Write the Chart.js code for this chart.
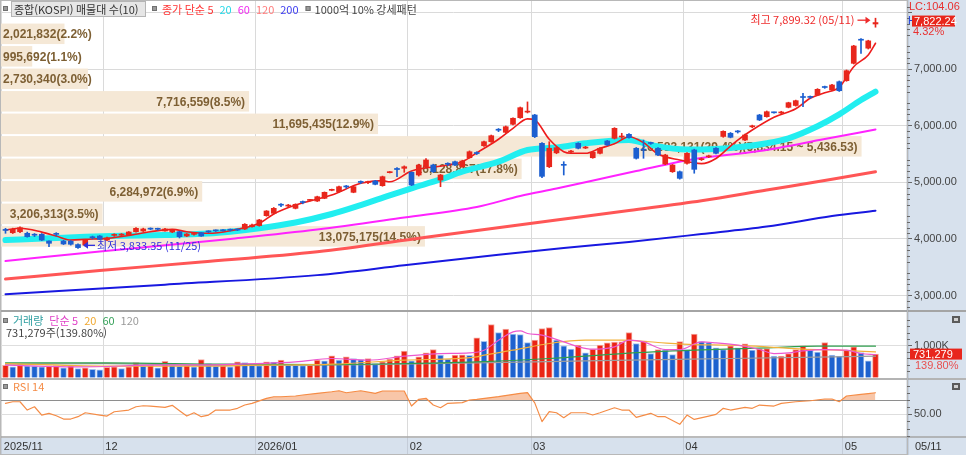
<!DOCTYPE html>
<html lang="ko">
<head>
    <meta charset="UTF-8">
    <title>종합(KOSPI) 일봉</title>
    <script src="https://cdn.jsdelivr.net/npm/chart.js"></script>
    <style>
        html, body { margin: 0; padding: 0; background: #fff; }
        .wrap { width: 966px; height: 455px; }
    </style>
</head>
<body>
<div class="wrap"><canvas id="kospi" width="966" height="455"></canvas></div>
<script>
    // 2025/11/11 ~ 2026/05/11 trading days
    const monthLabels = ['2025/11', '12', '2026/01', '02', '03', '04', '05'];
    const monthStart = [0, 14, 35, 56, 73, 94, 116];
    const lastDateLabel = '05/11';

    const opens = [4160,4109,4127,4099,4075,4081,3963,4090,3963,3960,3900,3892,4030,4051,
        3980,4062,4065,4069,4127,4139,4180,4178,4140,4122,4127,4051,4080,4109,4130,4148,4150,4160,4162,4175,4215,
        4235,4410,4452,4605,4580,4540,4650,4680,4669,4717,4858,4834,4925,4823,5005,4995,5023,4940,5170,5245,5247,
        5176,5129,5275,5305,5040,5325,5364,5275,5434,5515,5646,5717,5928,5883,6025,6141,6240,
        6189,5689,5275,5520,5310,5535,5689,5605,5434,5512,5730,5777,5800,5848,5601,5575,5692,5601,5323,5187,5187,
        5335,5571,5400,5450,5601,5810,5866,5896,5747,5980,6189,6159,6232,6225,6325,6357,6505,6505,6542,6682,6631,6777,
        6795,7102,7527,7370,7797];
    const highs = [4187,4190,4215,4120,4095,4095,3968,4110,3975,3970,3915,3990,4050,4060,
        4030,4090,4095,4130,4200,4190,4195,4190,4185,4165,4135,4095,4105,4115,4145,4160,4165,4175,4175,4270,4260,
        4345,4500,4555,4625,4610,4620,4670,4700,4755,4830,4880,4935,4945,4935,5025,5020,5035,5110,5190,5260,5290,
        5185,5320,5420,5320,5140,5345,5375,5390,5555,5540,5730,5835,5950,5995,6140,6330,6420,
        6200,5700,5717,5625,5364,5565,5700,5635,5545,5615,5740,5965,5866,5860,5615,5747,5710,5615,5495,5315,5200,
        5525,5585,5430,5480,5615,5910,5880,5915,5850,6010,6200,6260,6240,6255,6415,6452,6572,6525,6655,6700,6730,6790,
        6985,7420,7540,7510,7899.32];
    const lows = [4099,4095,4110,4030,4040,3970,3862,4050,3900,3890,3833.35,3875,4000,3985,
        3970,4045,4050,4060,4120,4130,4160,4155,4135,4110,4016,4040,4065,4045,4110,4130,4135,4140,4145,4165,4205,
        4225,4400,4440,4570,4565,4530,4620,4672,4660,4710,4850,4825,4895,4815,4975,4975,4955,4930,5165,5099,5176,
        4940,5110,5265,5175,4922,5295,5295,5265,5425,5490,5635,5705,5895,5870,6015,6130,6225,
        5790,5080,5260,5505,5129,5520,5590,5595,5425,5500,5650,5765,5777,5780,5410,5424,5670,5470,5310,5175,5055,
        5320,5160,5385,5435,5500,5795,5785,5870,5735,5965,6090,6150,6220,6210,6315,6345,6336,6480,6530,6660,6620,6605,
        6785,7090,7279,7355,7740];
    const closes = [4150,4169,4198,4039,4065,3980,3922,4080,3910,3905,3846.06,3980,4020,3993,
        4016,4070,4072,4122,4187,4175,4172,4170,4175,4157,4039,4086,4088,4051,4124,4142,4144,4154,4155,4258,4245,
        4334,4493,4540,4595,4590,4611,4643,4690,4745,4823,4866,4922,4918,4922,4998,5002,4964,5099,5178,5225,5275,
        4952,5305,5394,5187,5129,5318,5305,5376,5540,5508,5717,5823,5920,5982,6131,6318,6250,
        5806,5105,5601,5611,5300,5545,5601,5615,5530,5601,5659,5954,5810,5788,5424,5568,5686,5482,5482,5305,5070,
        5512,5229,5408,5458,5512,5900,5795,5890,5836,5988,6101,6247,6228,6232,6406,6442,6498,6500,6643,6675,6719,6618,
        6972,7408,7510,7498.3,7822.24];

    // 거래량 (천주)
    const volumes = [384,331,416,363,355,331,363,370,300,363,280,300,259,238,
        320,335,280,331,468,360,384,300,509,384,353,384,331,561,436,353,363,331,488,470,384,
        375,488,480,541,384,378,372,384,541,519,675,541,644,593,561,593,436,488,572,675,822,
        519,644,769,874,697,572,697,705,690,1238,1134,1656,1407,1510,1353,1340,1093,
        1166,1530,1562,1166,989,885,1010,770,885,1010,1082,1103,1114,1407,1062,1145,749,874,853,718,1124,
        874,1353,1124,1093,926,874,989,926,1051,853,895,900,666,672,749,874,989,853,791,1093,697,666,
        853,957,780,523.1,731.279];

    // 이동평균 (at sample days)
    const ma5Idx = [0,2,5,7,9,11,14,17,20,23,25,28,31,35,37,40,45,49,52,53,56,61,63,65,68,70,72,73,75,77,78,80,82,84,86,88,90,93,96,98,100,101,103,106,109,111,113,115,117,119,120];
    const ma5Val = [4157,4187,4120,4050,3980,3993,4010,4060,4127,4169,4127,4099,4145,4275,4440,4598,4775,4982,5030,5010,5200,5305,5364,5520,5760,5954,6120,6101,5760,5540,5512,5512,5601,5680,5806,5700,5500,5394,5330,5420,5640,5747,5924,6150,6300,6484,6580,6680,7043,7250,7456];
    const ma20Idx = [0,6,11,16,22,28,31,35,40,45,49,53,56,60,63,68,72,76,80,86,89,94,98,101,105,108,112,115,118,120];
    const ma20Val = [3980,4010,4038,4055,4068,4095,4127,4187,4290,4440,4598,4770,4894,5050,5187,5364,5570,5615,5689,5747,5659,5579,5590,5618,5690,5777,5990,6200,6454,6601];
    const ma60Idx = [0,13,31,43,55,65,71,76,82,87,95,104,113,120];
    const ma60Val = [3609,3777,4000,4166,4378,4563,4758,4890,5058,5199,5412,5553,5765,5933];
    const ma120Idx = [0,13,27,43,58,76,86,96,105,114,120];
    const ma120Val = [3291,3441,3591,3773,4030,4334,4503,4674,4864,5053,5187];
    const ma200Idx = [0,22,43,55,68,77,86,96,105,114,120];
    const ma200Val = [3021,3192,3360,3533,3722,3839,3945,4086,4219,4404,4498];

    const vma5Idx = [0,10,20,30,40,45,50,55,60,64,66,68,70,71,72,74,77,79,81,84,86,88,91,93,96,98,101,104,106,108,110,113,116,118,120];
    const vma5Val = [384,331,384,405,488,593,541,666,749,770,853,1166,1426,1458,1374,1322,1114,957,885,957,1166,1114,874,874,1114,1082,1010,874,749,770,832,874,853,749,718];
    const vma20Idx = [0,15,25,35,45,55,65,66,70,75,80,85,90,95,100,105,110,115,120];
    const vma20Val = [436,353,353,384,416,541,644,697,853,1062,1166,1166,1093,1030,1010,957,885,853,801];
    const vma60Idx = [0,14,30,45,55,65,75,85,95,105,112,120];
    const vma60Val = [457,457,416,405,436,488,593,749,853,926,978,978];
    const vma120Idx = [0,14,30,50,65,80,100,120];
    const vma120Val = [416,436,374,405,457,519,593,666];

    const rsiIdx = [0,1,2,3,4,5,6,7,8,9,10,11,13,14,15,17,18,19,20,22,23,24,25,26,27,28,29,31,32,33,34,36,37,38,40,41,43,45,46,47,49,51,52,55,56,57,58,59,60,61,63,64,65,68,71,72,73,74,75,76,77,78,80,81,82,84,85,86,87,89,90,91,93,94,95,97,98,99,100,102,103,104,106,107,109,111,113,114,115,116,118,119,120];
    const rsiVal = [65.4,67.6,67.6,56,60.6,49,51.4,48,43.4,43.4,46.7,52.2,49,47.6,53.6,56,60.6,62,61.6,59.8,62.6,55,47.6,52.2,46.7,49,56,56,58.4,63,65.4,72.4,74.6,74.6,75.6,77,79.4,81.6,83,80.2,83,79.4,82.6,82.6,61.6,71,72.4,63,59.2,65.4,66.3,70,71,74.8,79.4,80.3,66,39.8,53.7,52.2,45.3,52.2,52.2,49,52.2,59.2,56,56,45.8,51.4,46.7,46.7,36,49,42.9,47.6,49.9,58.4,56,59.8,58.4,63,61.6,65.4,67.6,69,71.4,71.4,67.6,75.6,77.9,79,80.2];
    const rsiLevel = 70;

    // 매물대 10 구간 (위에서 아래로)
    const profVol = [2021832, 995692, 2730340, 7716559, 11695435, 26583131, 16128867, 6284972, 3206313, 13075175];
    const profPct = [2.2, 1.1, 3.0, 8.5, 12.9, 29.4, 17.8, 6.9, 3.5, 14.5];
    const profTop = 7822.24, profBottom = 3846.06;

    const priceTicks = [3000, 3500, 4000, 4500, 5000, 5500, 6000, 6500, 7000, 7500, 8000];
    const lcValue = 104.06;

    const RED = '#e8261c', BLUE = '#1c5fd0';
    const fontKR = '"Noto Sans CJK KR", "Noto Sans", sans-serif';
    const fontNum = '"Liberation Sans", Arial, sans-serif';
    const fmt2 = v => v.toLocaleString('en-US', { minimumFractionDigits: 2, maximumFractionDigits: 2 });
    const fmt0 = v => Math.round(v).toLocaleString('en-US');
    const pts = (idx, val) => idx.map((x, k) => ({ x, y: val[k] }));

    function lineDs(label, idx, val, color, width, axis, order) {
        return {
            type: 'line', label, data: pts(idx, val), yAxisID: axis, order,
            borderColor: color, borderWidth: width, pointRadius: 0, fill: false,
            cubicInterpolationMode: 'monotone', borderCapStyle: 'round', borderJoinStyle: 'round'
        };
    }

    const candleColors = closes.map((c, i) => c >= opens[i] ? RED : BLUE);
    const volUp = volumes.map((v, i) => i === 0 || v > volumes[i - 1]);

    function square(ctx, x, y) {
        ctx.fillStyle = '#9a9a9a';
        ctx.fillRect(x, y, 5, 5);
        ctx.strokeStyle = '#707070';
        ctx.lineWidth = 1;
        ctx.strokeRect(x + 0.5, y + 0.5, 4, 4);
    }

    function row(ctx, x, y, parts) {
        parts.forEach(([text, color, gap]) => {
            ctx.fillStyle = color;
            ctx.fillText(text, x, y);
            x += ctx.measureText(text).width + (gap === undefined ? 6 : gap);
        });
        return x;
    }

    function hline(ctx, x1, x2, y, color, w) {
        ctx.strokeStyle = color;
        ctx.lineWidth = w;
        ctx.beginPath();
        ctx.moveTo(x1, y);
        ctx.lineTo(x2, y);
        ctx.stroke();
    }

    function minorTicks(ctx, scale, x, from, to, step, skip) {
        ctx.strokeStyle = '#6a6a6a';
        ctx.lineWidth = 1;
        for (let v = from; v <= to; v += step) {
            if (skip && v % skip === 0) continue;
            const py = Math.round(scale.getPixelForValue(v)) + 0.5;
            if (py < scale.top + 2 || py > scale.bottom - 1) continue;
            ctx.beginPath();
            ctx.moveTo(x, py);
            ctx.lineTo(x + 3, py);
            ctx.stroke();
        }
    }

    const decor = {
        id: 'decor',
        beforeDraw(chart) {
            const { ctx, chartArea: a } = chart;
            ctx.save();
            ctx.fillStyle = '#fff';
            ctx.fillRect(0, 0, chart.width, chart.height);
            ctx.fillStyle = '#d7e1ed';
            ctx.fillRect(a.right, 0, chart.width - a.right, chart.height);
            ctx.fillRect(0, a.bottom, a.right, chart.height - a.bottom);
            ctx.restore();
        },
        beforeDatasetsDraw(chart) {
            const { ctx, chartArea: a } = chart;
            const yP = chart.scales.yPrice, xP = chart.scales.xProf, yR = chart.scales.yRsi;
            ctx.save();
            // 매물대
            const step = (profTop - profBottom) / profVol.length;
            const maxK = profPct.indexOf(Math.max(...profPct));
            ctx.font = 'bold 12px ' + fontNum;
            ctx.textBaseline = 'middle';
            profVol.forEach((vol, k) => {
                const hi = profTop - k * step, lo = hi - step;
                const y1 = yP.getPixelForValue(hi), y2 = yP.getPixelForValue(lo);
                const x0 = xP.getPixelForValue(0), x1 = xP.getPixelForValue(profPct[k]);
                ctx.fillStyle = '#f5e8d6';
                ctx.fillRect(x0, y1 + 1, x1 - x0, y2 - y1 - 2);
                let text = fmt0(vol) + '(' + profPct[k].toFixed(1) + '%)';
                if (k === maxK) text += '(' + fmt2(hi) + ' ~ ' + fmt2(lo) + ')';
                const w = ctx.measureText(text).width;
                ctx.fillStyle = '#7d5f33';
                if (w + 8 < x1 - x0) {
                    ctx.textAlign = 'right';
                    ctx.fillText(text, x1 - 4, (y1 + y2) / 2 + 1);
                } else {
                    ctx.textAlign = 'left';
                    ctx.fillText(text, x0 + 3, (y1 + y2) / 2 + 1);
                }
            });
            // RSI 기준선
            hline(ctx, a.left, a.right, Math.round(yR.getPixelForValue(rsiLevel)) + 0.5, '#8e8e8e', 1);
            ctx.restore();
        },
        afterDraw(chart) {
            const { ctx, chartArea: a } = chart;
            const x = chart.scales.x, yP = chart.scales.yPrice, yV = chart.scales.yVol, yR = chart.scales.yRsi;
            const W = chart.width;
            ctx.save();

            // panel separators
            hline(ctx, 0, W, yP.bottom, '#a4a4a4', 2);
            hline(ctx, 0, W, yV.bottom, '#b4b4b4', 2);
            hline(ctx, 0, W, a.bottom - 1, '#a4a4a4', 1.5);
            ctx.strokeStyle = '#8d9bb0';
            ctx.lineWidth = 1.5;
            ctx.beginPath();
            ctx.moveTo(a.right + 0.5, 0);
            ctx.lineTo(a.right + 0.5, chart.height);
            ctx.stroke();
            ctx.strokeStyle = '#b8b8b8';
            ctx.lineWidth = 1;
            ctx.strokeRect(0.5, 0.5, a.right, chart.height - 1);

            minorTicks(ctx, yP, a.right, 2800, 8200, 100, 500);
            minorTicks(ctx, yV, a.right, 200, 2000, 200, 1000);
            minorTicks(ctx, yR, a.right, 20, 95, 10, 50);

            // legends
            ctx.textBaseline = 'middle';
            ctx.textAlign = 'left';
            ctx.font = '11px ' + fontKR;
            square(ctx, 3, 6);
            ctx.fillStyle = '#e6e6e6';
            ctx.fillRect(11, 1, 135, 16);
            ctx.strokeStyle = '#b5b5b5';
            ctx.strokeRect(11.5, 1.5, 134, 15);
            ctx.fillStyle = '#333';
            ctx.fillText('종합(KOSPI) 매물대 수(10)', 14, 9.5);
            square(ctx, 152, 6);
            let lx = row(ctx, 162, 9.5, [
                ['종가 단순 5', '#ff3434'], ['20', '#22d8e8'], ['60', '#f028f0'],
                ['120', '#ff7a7a'], ['200', '#3a3af0', 7]
            ]);
            square(ctx, lx, 6);
            row(ctx, lx + 9, 9.5, [['1000억 10% 강세패턴', '#444']]);

            const vTop = yV.top;
            square(ctx, 3, vTop + 7);
            row(ctx, 13, vTop + 10, [
                ['거래량', '#2e9ea0'], ['단순 5', '#e040c8'], ['20', '#f0a830'],
                ['60', '#34a058'], ['120', '#9a9a9a']
            ]);
            const lastVol = volumes[volumes.length - 1];
            const volRatio = lastVol / volumes[volumes.length - 2] * 100;
            ctx.fillStyle = '#444';
            ctx.fillText(fmt0(lastVol * 1000) + '주(' + volRatio.toFixed(2) + '%)', 6, vTop + 22);

            square(ctx, 3, yR.top + 5);
            row(ctx, 13, yR.top + 8, [['RSI 14', '#f58c46']]);

            // high / low markers
            const hiI = highs.indexOf(Math.max(...highs));
            const loI = lows.indexOf(Math.min(...lows));
            const hx = x.getPixelForValue(hiI), hy = yP.getPixelForValue(highs[hiI]) + 2;
            ctx.fillStyle = '#ee2b2b';
            ctx.textAlign = 'right';
            ctx.fillText('최고 ' + fmt2(highs[hiI]) + ' (05/11)', hx - 21, hy);
            hline(ctx, hx - 18, hx - 7, hy, '#ee2b2b', 1.3);
            ctx.beginPath();
            ctx.moveTo(hx - 5, hy); ctx.lineTo(hx - 10, hy - 3.5); ctx.lineTo(hx - 10, hy + 3.5);
            ctx.fill();

            const lxp = x.getPixelForValue(loI), ly = yP.getPixelForValue(lows[loI]) - 3;
            ctx.fillStyle = '#3030dc';
            ctx.textAlign = 'left';
            hline(ctx, lxp + 8, lxp + 17, ly, '#3030dc', 1.3);
            ctx.beginPath();
            ctx.moveTo(lxp + 5, ly); ctx.lineTo(lxp + 10, ly - 3.5); ctx.lineTo(lxp + 10, ly + 3.5);
            ctx.fill();
            ctx.fillText('최저 ' + fmt2(lows[loI]) + ' (11/25)', lxp + 19, ly);

            // date labels
            ctx.font = '11px ' + fontNum;
            ctx.fillStyle = '#333';
            monthLabels.forEach((t, k) => {
                ctx.fillText(t, x.getPixelForValue(monthStart[k] - 0.5) + 2, a.bottom + 9);
            });
            ctx.fillText(lastDateLabel, a.right + 8, a.bottom + 9);

            // right side value labels
            const last = closes[closes.length - 1];
            const chg = (last / closes[closes.length - 2] - 1) * 100;
            const cy = yP.getPixelForValue(last) - 1.5;
            ctx.fillStyle = '#e83030';
            ctx.fillText('LC:' + lcValue.toFixed(2), a.right + 2, 6.5);
            ctx.fillStyle = '#2244dd';
            ctx.fillText('H', a.right + 1, cy);
            ctx.fillStyle = RED;
            ctx.fillRect(a.right + 5, cy - 5.5, 43, 11);
            ctx.fillStyle = '#fff';
            ctx.fillText(fmt2(last), a.right + 7, cy + 0.5);
            ctx.fillStyle = '#e83030';
            ctx.fillText(chg.toFixed(2) + '%', a.right + 6, cy + 10.5);

            const vy = yV.getPixelForValue(lastVol);
            ctx.fillStyle = RED;
            ctx.fillRect(a.right + 3, vy - 5.5, 52, 11);
            ctx.fillStyle = '#fff';
            ctx.fillText(fmt0(lastVol * 1000), a.right + 6, vy + 0.5);
            ctx.fillStyle = '#e85050';
            ctx.fillText(volRatio.toFixed(2) + '%', a.right + 8, vy + 11.5);

            // small panel buttons
            [yV.top + 5, yR.top + 4].forEach(by => {
                ctx.fillStyle = '#5a5a5a';
                ctx.fillRect(W - 14, by, 8, 7);
                ctx.fillStyle = '#d0d0d0';
                ctx.fillRect(W - 12, by + 2, 4, 3);
            });
            ctx.restore();
        }
    };

    const yTickFont = { family: fontNum, size: 11 };
    const fitY = s => { s.width = 59; s.paddingTop = 0; s.paddingBottom = 0; };

    new Chart(document.getElementById('kospi'), {
        type: 'bar',
        data: {
            datasets: [
                {
                    label: '봉', data: closes.map((c, i) => ({ x: i, y: [opens[i], c] })),
                    yAxisID: 'yPrice', order: 1, grouped: false, barThickness: 5, maxBarThickness: 5,
                    minBarLength: 1, backgroundColor: candleColors
                },
                {
                    label: '꼬리', data: closes.map((c, i) => ({ x: i, y: [lows[i], highs[i]] })),
                    yAxisID: 'yPrice', order: 2, grouped: false, barThickness: 1, maxBarThickness: 1,
                    backgroundColor: candleColors
                },
                lineDs('5', ma5Idx, ma5Val, '#ee1c1c', 1.6, 'yPrice', 3),
                lineDs('20', ma20Idx, ma20Val, '#22eef0', 6, 'yPrice', 6),
                lineDs('60', ma60Idx, ma60Val, '#ff22ff', 2, 'yPrice', 7),
                lineDs('120', ma120Idx, ma120Val, '#ff5656', 3, 'yPrice', 8),
                lineDs('200', ma200Idx, ma200Val, '#1818e0', 2, 'yPrice', 9),
                {
                    label: '거래량', data: volumes.map((v, i) => ({ x: i, y: v })),
                    yAxisID: 'yVol', order: 6, grouped: false, barThickness: 6, maxBarThickness: 6,
                    backgroundColor: volUp.map(u => u ? '#ea2414' : '#1d62cf'),
                    borderColor: volUp.map(u => u ? '#f5a8a0' : '#a8c4ee'),
                    borderWidth: { left: 1, right: 1, top: 1, bottom: 0 }, borderSkipped: false
                },
                lineDs('v5', vma5Idx, vma5Val, '#ec58cf', 1.2, 'yVol', 2),
                lineDs('v20', vma20Idx, vma20Val, '#f2b13a', 1.2, 'yVol', 3),
                lineDs('v60', vma60Idx, vma60Val, '#2f9e4e', 1.2, 'yVol', 4),
                lineDs('v120', vma120Idx, vma120Val, '#9c9c9c', 1.2, 'yVol', 5),
                Object.assign(lineDs('RSI', rsiIdx, rsiVal, '#f58c46', 1.2, 'yRsi', 3), {
                    cubicInterpolationMode: 'default', tension: 0,
                    fill: { target: { value: rsiLevel }, above: 'rgba(244,160,110,0.6)', below: 'rgba(0,0,0,0)' }
                })
            ]
        },
        options: {
            responsive: false,
            animation: false,
            events: [],
            layout: { padding: 0, autoPadding: false },
            plugins: { legend: { display: false }, tooltip: { enabled: false } },
            scales: {
                x: {
                    type: 'linear', position: 'bottom', offset: false,
                    min: -0.7586, max: 124.345,
                    afterBuildTicks: s => { s.ticks = monthStart.map(m => ({ value: m - 0.5 })); },
                    afterFit: s => { s.height = 17; s.paddingLeft = 0; s.paddingRight = 0; },
                    ticks: { display: false },
                    grid: { offset: false, color: '#dadada', tickColor: '#c4ccd8', tickLength: 17 },
                    border: { display: false }
                },
                xProf: {
                    type: 'linear', display: false, position: 'bottom', offset: false,
                    grid: { offset: false }, min: 0, max: 30.95
                },
                yPrice: {
                    type: 'linear', position: 'right', stack: 'panes', stackWeight: 311,
                    min: 2726.1, max: 8220.8,
                    afterBuildTicks: s => { s.ticks = priceTicks.map(v => ({ value: v })); },
                    afterFit: fitY,
                    ticks: { font: yTickFont, color: '#444', padding: 2, callback: v => v === 8000 ? '' : fmt2(v) },
                    grid: { color: '#dadada', tickColor: '#666', tickLength: 5 },
                    border: { display: false }
                },
                yVol: {
                    type: 'linear', position: 'right', stack: 'panes', stackWeight: 68,
                    min: -47, max: 2078,
                    afterBuildTicks: s => { s.ticks = [{ value: 1000 }]; },
                    afterFit: fitY,
                    ticks: { font: yTickFont, color: '#444', padding: 2, callback: () => '1,000K' },
                    grid: { color: '#dedede', tickColor: '#666', tickLength: 5 },
                    border: { display: false }
                },
                yRsi: {
                    type: 'linear', position: 'right', stack: 'panes', stackWeight: 59,
                    min: 16.9, max: 99.4,
                    afterBuildTicks: s => { s.ticks = [{ value: 50 }]; },
                    afterFit: fitY,
                    ticks: { font: yTickFont, color: '#444', padding: 2, callback: v => fmt2(v) },
                    grid: { color: '#dedede', tickColor: '#666', tickLength: 5 },
                    border: { display: false }
                }
            }
        },
        plugins: [decor]
    });
</script>
</body>
</html>
